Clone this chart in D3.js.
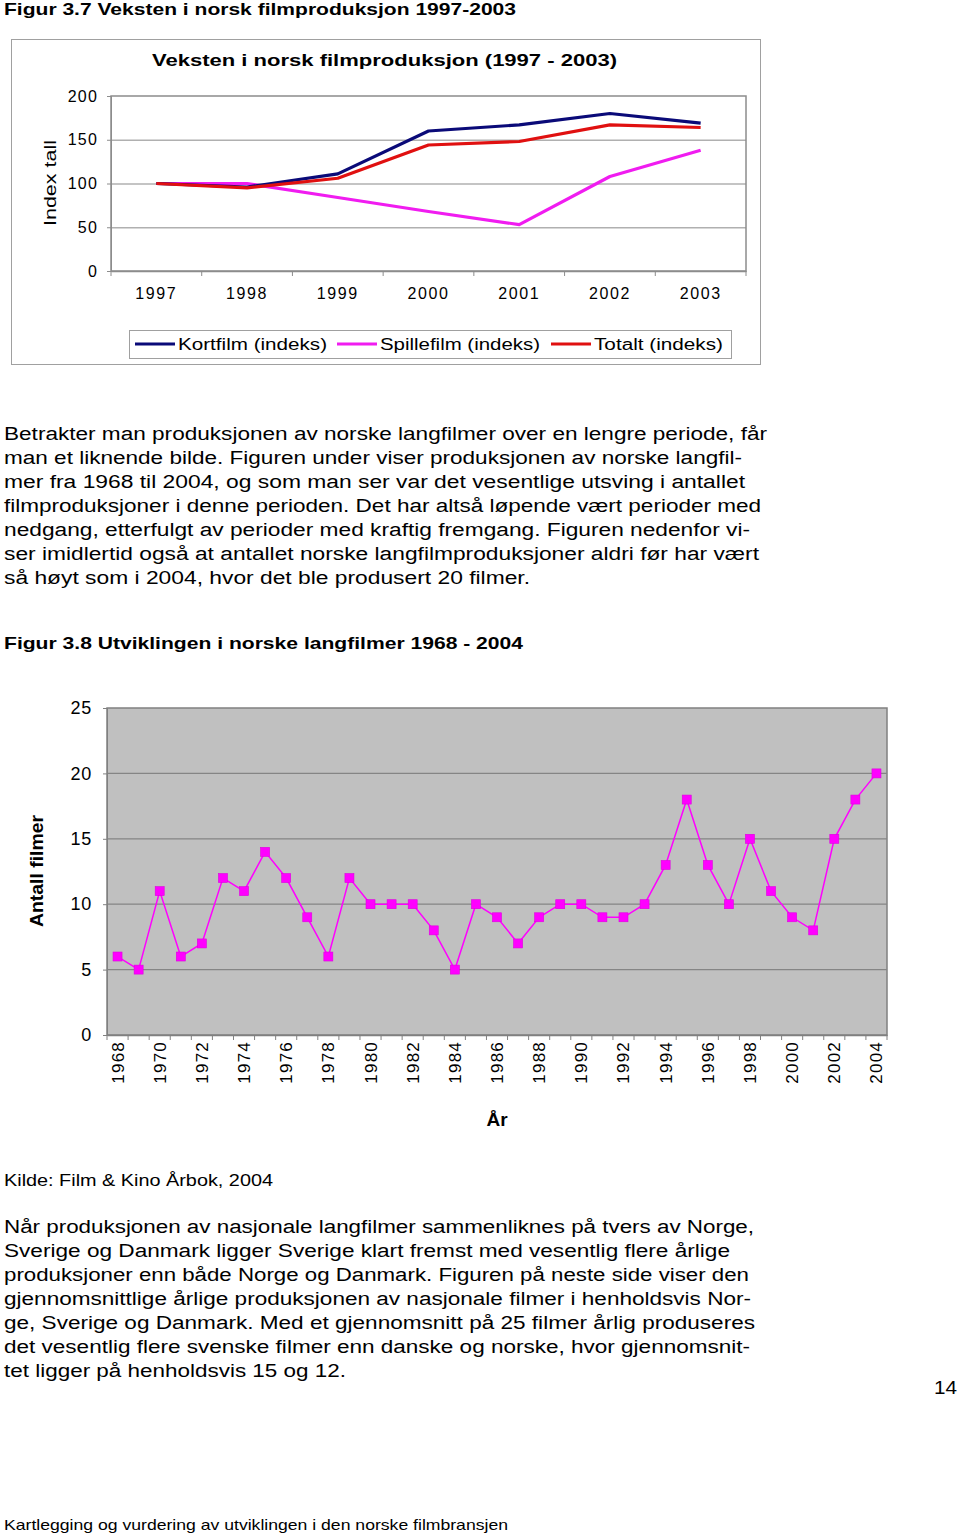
<!DOCTYPE html>
<html><head><meta charset="utf-8">
<script src="https://cdn.jsdelivr.net/npm/d3@7"></script>
<style>
html,body{margin:0;padding:0;background:#fff;}
svg text{font-family:"Liberation Sans",Arial,Helvetica,sans-serif;fill:#000;}
</style></head>
<body><svg id="c" width="960" height="1534"></svg>
<script>
// ---------- data ----------
const years7 = ["1997","1998","1999","2000","2001","2002","2003"];
const kortfilm = [100, 96, 111, 160, 167, 180, 169];
const spillefilm = [100, 100, 84, 68, 53, 108, 138];
const totalt = [100, 95, 106, 144, 148, 167, 164];
const topTicks = [0, 50, 100, 150, 200];
const seriesNames = ["Kortfilm (indeks)", "Spillefilm (indeks)", "Totalt (indeks)"];

const years37 = ["1968","1969","1970","1971","1972","1973","1974","1975","1976","1977","1978","1979","1980","1981","1982","1983","1984","1985","1986","1987","1988","1989","1990","1991","1992","1993","1994","1995","1996","1997","1998","1999","2000","2001","2002","2003","2004"];
const antallFilmer = [6,5,11,6,7,12,11,14,12,9,6,12,10,10,10,8,5,10,9,7,9,10,10,9,9,10,13,18,13,10,15,11,9,8,15,18,20];
const bottomTicks = [0,5,10,15,20,25];
const bottomLabelYears = years37.filter((d,i)=>i%2===0);

const para1 = [
"Betrakter man produksjonen av norske langfilmer over en lengre periode, får",
"man et liknende bilde. Figuren under viser produksjonen av norske langfil-",
"mer fra 1968 til 2004, og som man ser var det vesentlige utsving i antallet",
"filmproduksjoner i denne perioden. Det har altså løpende vært perioder med",
"nedgang, etterfulgt av perioder med kraftig fremgang. Figuren nedenfor vi-",
"ser imidlertid også at antallet norske langfilmproduksjoner aldri før har vært",
"så høyt som i 2004, hvor det ble produsert 20 filmer."];
const para1W = [763,738,741,757,746,755,526];
const para2 = [
"Når produksjonen av nasjonale langfilmer sammenliknes på tvers av Norge,",
"Sverige og Danmark ligger Sverige klart fremst med vesentlig flere årlige",
"produksjoner enn både Norge og Danmark. Figuren på neste side viser den",
"gjennomsnittlige årlige produksjonen av nasjonale filmer i henholdsvis Nor-",
"ge, Sverige og Danmark. Med et gjennomsnitt på 25 filmer årlig produseres",
"det vesentlig flere svenske filmer enn danske og norske, hvor gjennomsnit-",
"tet ligger på henholdsvis 15 og 12."];
const para2W = [750,726,745,747,751,746,342];

// ---------- helpers ----------
const svg = d3.select("#c");
function txt(g, x, y, s, o={}) {
  const t = g.append("text").attr("x", x).attr("y", y).text(s)
    .attr("font-size", o.size || 18)
    .attr("font-weight", o.weight || "normal")
    .attr("text-anchor", o.anchor || "start");
  if (o.width) t.attr("textLength", o.width).attr("lengthAdjust", "spacingAndGlyphs");
  if (o.ls) t.attr("letter-spacing", o.ls);
  if (o.rotate) t.attr("transform", `rotate(${o.rotate},${x},${y})`);
  return t;
}

// ---------- page text ----------
txt(svg, 4, 15, "Figur 3.7 Veksten i norsk filmproduksjon 1997-2003", {size:17, weight:"bold", width:512});
para1.forEach((s,i)=>txt(svg, 4, 440+i*24, s, {size:18, width:para1W[i]}));
txt(svg, 4, 649, "Figur 3.8 Utviklingen i norske langfilmer 1968 - 2004", {size:17, weight:"bold", width:519});
txt(svg, 4, 1186, "Kilde: Film & Kino Årbok, 2004", {size:17, width:269});
para2.forEach((s,i)=>txt(svg, 4, 1233+i*24, s, {size:18, width:para2W[i]}));
txt(svg, 934, 1394, "14", {size:18, width:23});
txt(svg, 4, 1530, "Kartlegging og vurdering av utviklingen i den norske filmbransjen", {size:15, width:504});

// ---------- top chart ----------
const topG = svg.append("g");
topG.append("rect").attr("x",11.5).attr("y",39.5).attr("width",749).attr("height",325)
  .attr("fill","#fff").attr("stroke","#a0a0a0");
txt(topG, 152, 66, "Veksten i norsk filmproduksjon (1997 - 2003)", {size:16, weight:"bold", width:465});

const tx = d3.scaleBand().domain(years7).range([111, 746]).padding(0);
const ty = d3.scaleLinear().domain([0, 200]).range([271, 96]);

topG.append("g").selectAll("line").data(topTicks.filter(d=>d>0 && d<200)).join("line")
  .attr("x1",111).attr("x2",746).attr("y1",d=>ty(d)+0.5).attr("y2",d=>ty(d)+0.5)
  .attr("stroke","#b0b0b0").attr("stroke-width",1.3);
topG.append("rect").attr("x",111).attr("y",ty(200)).attr("width",635).attr("height",ty(0)-ty(200))
  .attr("fill","none").attr("stroke","#8c8c8c").attr("stroke-width",1.5);
const yaxT = topG.append("g").attr("transform","translate(111,0)")
  .call(d3.axisLeft(ty).tickValues(topTicks).tickSize(4).tickPadding(9));
yaxT.select(".domain").attr("stroke","#8c8c8c");
yaxT.selectAll(".tick line").attr("stroke","#8c8c8c");
yaxT.selectAll(".tick text").attr("font-size",16).attr("letter-spacing",1.2)
  .attr("font-family",'"Liberation Sans",Arial,sans-serif').attr("fill","#000");
const xaxT = topG.append("g").attr("transform",`translate(0,${ty(0)})`)
  .call(d3.axisBottom(tx).tickSize(0).tickPadding(17));
xaxT.select(".domain").attr("stroke","#8c8c8c").attr("stroke-width",1.5);
xaxT.selectAll(".tick text").attr("font-size",16).attr("letter-spacing",1.6)
  .attr("font-family",'"Liberation Sans",Arial,sans-serif').attr("fill","#000");
topG.append("g").selectAll("line").data(d3.range(years7.length+1)).join("line")
  .attr("x1",i=>111+i*tx.step()).attr("x2",i=>111+i*tx.step())
  .attr("y1",ty(0)).attr("y2",ty(0)+5).attr("stroke","#8c8c8c");

txt(topG, 56, 183, "Index tall", {size:16, anchor:"middle", width:86, rotate:-90});

const topSeries = [
  {name:seriesNames[0], values:kortfilm, color:"#0a0a78"},
  {name:seriesNames[1], values:spillefilm, color:"#f01cf0"},
  {name:seriesNames[2], values:totalt, color:"#e01010"}
];
const line7 = d3.line().x((d,i)=>tx(years7[i])+tx.bandwidth()/2).y(d=>ty(d));
[topSeries[1], topSeries[0], topSeries[2]].forEach(s=>{
  topG.append("path").attr("d", line7(s.values)).attr("fill","none")
    .attr("stroke", s.color).attr("stroke-width",3.2).attr("stroke-linejoin","round");
});

topG.append("rect").attr("x",129.5).attr("y",330.5).attr("width",602).attr("height",28)
  .attr("fill","#fff").attr("stroke","#a0a0a0");
const legX = [135, 337, 551];
const legW = [149, 160, 129];
topSeries.forEach((s,i)=>{
  topG.append("line").attr("x1",legX[i]).attr("x2",legX[i]+40).attr("y1",344).attr("y2",344)
    .attr("stroke",s.color).attr("stroke-width",3.2);
  txt(topG, legX[i]+43, 350, s.name, {size:16, width:legW[i]});
});

// ---------- bottom chart ----------
const bot = svg.append("g");
const bx = d3.scaleBand().domain(years37).range([107, 887]).padding(0);
const by = d3.scaleLinear().domain([0, 25]).range([1035, 708]);

bot.append("rect").attr("x",107).attr("y",by(25)).attr("width",780).attr("height",by(0)-by(25))
  .attr("fill","#c0c0c0").attr("stroke","#808080").attr("stroke-width",1.5);
bot.append("g").selectAll("line").data(bottomTicks.filter(d=>d>0 && d<25)).join("line")
  .attr("x1",107).attr("x2",887).attr("y1",d=>by(d)).attr("y2",d=>by(d))
  .attr("stroke","#858585").attr("stroke-width",1.3);

const yaxB = bot.append("g").attr("transform","translate(107,0)")
  .call(d3.axisLeft(by).tickValues(bottomTicks).tickSize(4).tickPadding(11));
yaxB.select(".domain").attr("stroke","#808080");
yaxB.selectAll(".tick line").attr("stroke","#808080");
yaxB.selectAll(".tick text").attr("font-size",18).attr("letter-spacing",0.8)
  .attr("font-family",'"Liberation Sans",Arial,sans-serif').attr("fill","#000");

const xaxB = bot.append("g").attr("transform",`translate(0,${by(0)})`)
  .call(d3.axisBottom(bx).tickValues(bottomLabelYears).tickSize(0).tickPadding(0));
xaxB.select(".domain").attr("stroke","#808080").attr("stroke-width",1.5);
xaxB.selectAll(".tick text")
  .attr("font-size",17).attr("letter-spacing",1.2)
  .attr("font-family",'"Liberation Sans",Arial,sans-serif').attr("fill","#000")
  .attr("text-anchor","end").attr("dy",null).attr("y",0).attr("x",0)
  .attr("transform","translate(6,6) rotate(-90)");
bot.append("g").selectAll("line").data(d3.range(years37.length+1)).join("line")
  .attr("x1",i=>107+i*bx.step()).attr("x2",i=>107+i*bx.step())
  .attr("y1",by(0)).attr("y2",by(0)+5).attr("stroke","#808080");

const line37 = d3.line().x((d,i)=>bx(years37[i])+bx.bandwidth()/2).y(d=>by(d));
bot.append("path").attr("d", line37(antallFilmer)).attr("fill","none")
  .attr("stroke","#ff00ff").attr("stroke-width",1.5);
bot.append("g").selectAll("rect").data(antallFilmer).join("rect")
  .attr("x",(d,i)=>bx(years37[i])+bx.bandwidth()/2-4.5).attr("y",d=>by(d)-4.5)
  .attr("width",9).attr("height",9).attr("fill","#ff00ff").attr("stroke","#e000e0").attr("stroke-width",0.6);

txt(bot, 43, 871, "Antall filmer", {size:19, weight:"bold", anchor:"middle", width:112, rotate:-90});
txt(bot, 497, 1126, "År", {size:19, weight:"bold", anchor:"middle"});
</script></body></html>
